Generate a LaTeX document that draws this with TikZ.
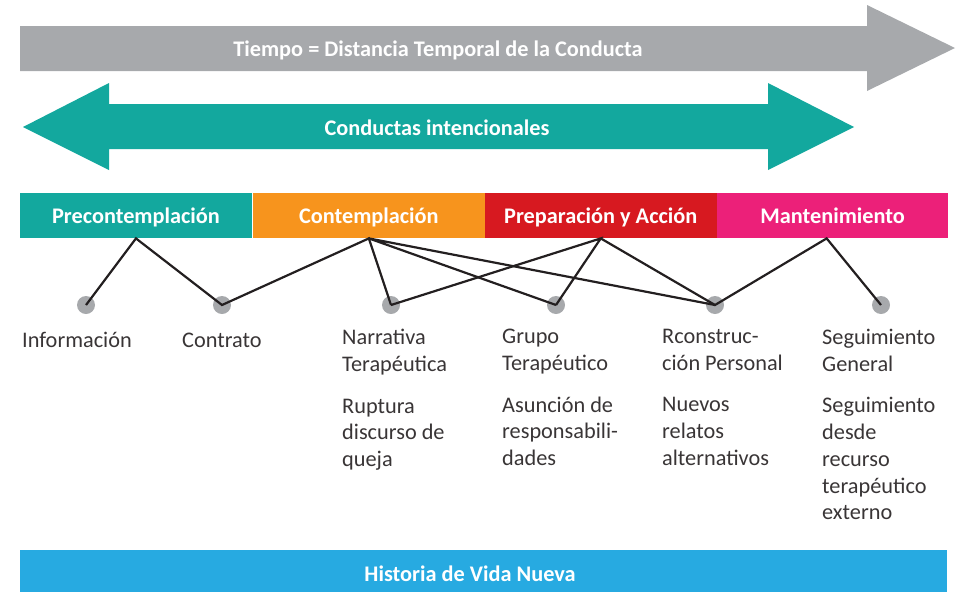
\documentclass[tikz,border=0pt]{standalone}
\usepackage{fontspec}
\setmainfont{Carlito}
\usetikzlibrary{positioning}

\definecolor{gris}{HTML}{A7A9AC}
\definecolor{verde}{HTML}{13A89E}
\definecolor{naranja}{HTML}{F7941D}
\definecolor{rojo}{HTML}{D71920}
\definecolor{rosa}{HTML}{EC2079}
\definecolor{azul}{HTML}{27AAE1}
\definecolor{tinta}{HTML}{231F20}

\tikzset{
  etapa/.style={
    rectangle,
    minimum width=231.5pt,
    minimum height=45pt,
    text height=15.6pt,
    text depth=0pt,
    inner sep=0pt,
    text=white,
    font=\bfseries\fontsize{22.3}{24}\selectfont},
  rotulo/.style={anchor=base, text=white, inner sep=0pt, font=\bfseries\fontsize{22.3}{24}\selectfont},
  punto/.style={circle, fill=gris, minimum size=18pt, inner sep=0pt},
  enlace/.style={draw=tinta, line width=2.2pt, line join=miter},
}

\begin{document}
\begin{tikzpicture}[
    x=1pt, y=-1pt,
    texto/.style={anchor=north west, align=left, inner sep=0pt,
      text=tinta!90, font=\fontsize{22.3}{26.7}\selectfont,
      execute at begin node={\rule{0pt}{18pt}}}
    ]
    \useasboundingbox (0,0) rectangle (961,592);

    %time arrow
    \fill[gris] (20,26) -- (867,26) -- (867,5) -- (955,48) -- (867,91)
      -- (867,71) -- (20,71) -- cycle;
    \node[rotulo] (tiempo) at (438,56.7) {Tiempo = Distancia Temporal de la Conducta};

    %double arrow
    \fill[verde] (23,127) -- (109,83) -- (109,104) -- (768,104) -- (768,83)
      -- (854,127) -- (768,170) -- (768,149) -- (109,149) -- (109,170) -- cycle;
    \node[rotulo] (conductas) at (437,135.5) {Conductas intencionales};

    %stages
    \node[etapa, fill=verde, anchor=north west] (pre) at (20,193) {Precontemplación};
    \node[etapa, fill=naranja, right=1pt of pre] (con) {Contemplación};
    \node[etapa, fill=rojo, right=0pt of con] (pre2) {Preparación y Acción};
    \node[etapa, fill=rosa, right=0pt of pre2] (man) {Mantenimiento};

    %dots
    \node[punto] (d1) at (86,305) {};
    \node[punto] (d2) at (222,305) {};
    \node[punto] (d3) at (391,305) {};
    \node[punto] (d4) at (556,305) {};
    \node[punto] (d5) at (715,305) {};
    \node[punto] (d6) at (881,305) {};

    %connections
    \draw[enlace] (d1.center) -- (pre.south) -- (d2.center) -- (con.south) -- (d3.center);
    \draw[enlace] (d4.center) -- (con.south) -- (d5.center);
    \draw[enlace] (d3.center) -- (pre2.south) -- (d4.center);
    \draw[enlace] (pre2.south) -- (d5.center) -- ([xshift=-6pt]man.south) -- (d6.center);

    %texts
    \node[texto] (info) at (22,329) {Información};
    \node[texto] (contrato) at (182,329) {Contrato};
    \node[texto] (narr) at (342,329) {Narrativa\\Terapéutica\\[15pt]Ruptura\\discurso de\\queja};
    \node[texto] (grupo) at (502,329) {Grupo\\Terapéutico\\[15pt]Asunción de\\responsabili-\\dades};
    \node[texto] (recon) at (662,329) {Rconstruc-\\ción Personal\\[15pt]Nuevos\\relatos\\alternativos};
    \node[texto] (segui) at (822,329) {Seguimiento\\General\\[15pt]Seguimiento\\desde\\recurso\\terapéutico\\externo};

    %bottom bar
    \fill[azul] (20,550) rectangle (947,592);
    \node[rotulo] (historia) at (470,581.7) {Historia de Vida Nueva};
\end{tikzpicture}
\end{document}
